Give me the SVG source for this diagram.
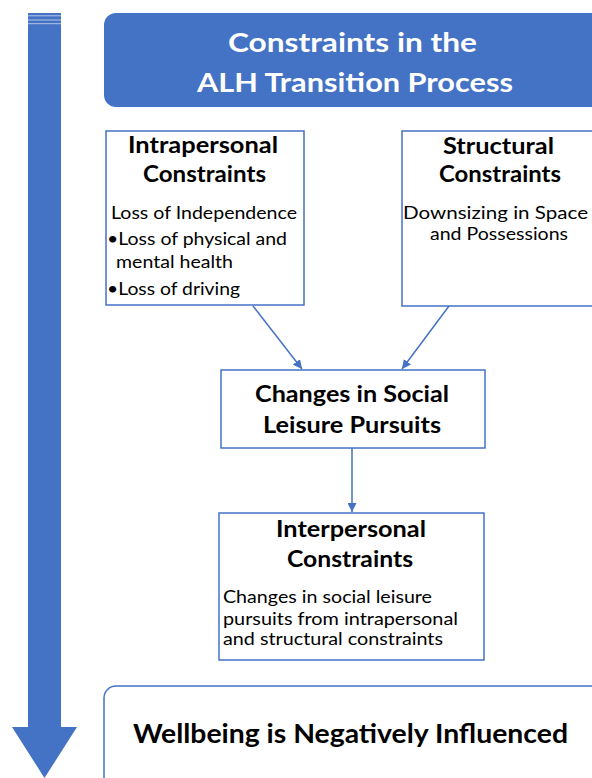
<svg xmlns="http://www.w3.org/2000/svg" width="592" height="778" viewBox="0 0 592 778">
<style>
.box{fill:#ffffff;stroke:#4472C4;stroke-width:1.5}
.h{font-family:Lato,"Open Sans",sans-serif;font-weight:bold;fill:#000;text-anchor:middle}
.b{font-family:Lato,"Open Sans",sans-serif;fill:#000}
.t{font-family:Lato,"Open Sans",sans-serif;font-weight:bold;fill:#fff;text-anchor:middle;font-size:27px}
.c{stroke:#4472C4;stroke-width:1.5;fill:none}
</style>
<defs>
<marker id="ah" viewBox="0 0 10 10" refX="10" refY="5" markerWidth="9" markerHeight="9" markerUnits="userSpaceOnUse" orient="auto">
<path d="M0,0 L10,5 L0,10 z" fill="#4472C4"/>
</marker>
</defs>
<rect width="592" height="778" fill="#ffffff"/>
<g id="timeline-arrow">
<polygon points="28,13 61,13 61,727 77,727 44.5,778 12,727 28,727" fill="#4472C4"/>
<line x1="28" y1="15.8" x2="61" y2="15.8" stroke="#b4c6e7" stroke-width="1"/>
<line x1="28" y1="20" x2="61" y2="20" stroke="#b4c6e7" stroke-width="1"/>
<line x1="28" y1="23.7" x2="61" y2="23.7" stroke="#b4c6e7" stroke-width="1"/>
</g>
<g id="title">
<rect x="104" y="13" width="510" height="94" rx="12" fill="#4472C4"/>
<text class="t" x="352.5" y="52" textLength="249" lengthAdjust="spacingAndGlyphs">Constraints in the</text>
<text class="t" x="355" y="92" textLength="316" lengthAdjust="spacingAndGlyphs">ALH Transition Process</text>
</g>
<g id="intrapersonal">
<rect class="box" x="106" y="131" width="198" height="174"/>
<text class="h" x="203" y="153" font-size="23" textLength="150" lengthAdjust="spacingAndGlyphs">Intrapersonal</text>
<text class="h" x="204.5" y="182" font-size="23" textLength="123" lengthAdjust="spacingAndGlyphs">Constraints</text>
<text class="b" x="204" y="219" font-size="17.5" text-anchor="middle" textLength="186" lengthAdjust="spacingAndGlyphs">Loss of Independence</text>
<text class="b" x="107" y="245" font-size="17.5" textLength="180" lengthAdjust="spacingAndGlyphs">•Loss of physical and</text>
<text class="b" x="116" y="268" font-size="17.5" textLength="117" lengthAdjust="spacingAndGlyphs">mental health</text>
<text class="b" x="107" y="295" font-size="17.5" textLength="133" lengthAdjust="spacingAndGlyphs">•Loss of driving</text>
</g>
<g id="structural">
<rect class="box" x="402" y="131" width="200" height="175"/>
<text class="h" x="498.5" y="154" font-size="23" textLength="111" lengthAdjust="spacingAndGlyphs">Structural</text>
<text class="h" x="500" y="182" font-size="23" textLength="122" lengthAdjust="spacingAndGlyphs">Constraints</text>
<text class="b" x="495.5" y="219" font-size="17.5" text-anchor="middle" textLength="185" lengthAdjust="spacingAndGlyphs">Downsizing in Space</text>
<text class="b" x="499" y="240" font-size="17.5" text-anchor="middle" textLength="138" lengthAdjust="spacingAndGlyphs">and Possessions</text>
</g>
<g id="changes">
<rect class="box" x="221" y="370" width="264" height="78"/>
<text class="h" x="352" y="402" font-size="23" textLength="194" lengthAdjust="spacingAndGlyphs">Changes in Social</text>
<text class="h" x="352" y="433" font-size="23" textLength="178" lengthAdjust="spacingAndGlyphs">Leisure Pursuits</text>
</g>
<g id="interpersonal">
<rect class="box" x="219" y="513" width="265" height="147"/>
<text class="h" x="351" y="537" font-size="23" textLength="150" lengthAdjust="spacingAndGlyphs">Interpersonal</text>
<text class="h" x="350" y="567" font-size="23" textLength="126" lengthAdjust="spacingAndGlyphs">Constraints</text>
<text class="b" x="223" y="603" font-size="16.5" textLength="209" lengthAdjust="spacingAndGlyphs">Changes in social leisure</text>
<text class="b" x="223" y="625" font-size="16.5" textLength="235" lengthAdjust="spacingAndGlyphs">pursuits from intrapersonal</text>
<text class="b" x="223" y="645" font-size="16.5" textLength="220" lengthAdjust="spacingAndGlyphs">and structural constraints</text>
</g>
<g id="wellbeing">
<rect class="box" x="104" y="686" width="510" height="110" rx="12"/>
<text class="h" x="350.5" y="743" font-size="26" textLength="435" lengthAdjust="spacingAndGlyphs">Wellbeing is Negatively Influenced</text>
</g>
<g id="connectors">
<line class="c" x1="253" y1="306" x2="302" y2="369" marker-end="url(#ah)"/>
<line class="c" x1="449" y1="306" x2="402" y2="369" marker-end="url(#ah)"/>
<line class="c" x1="352" y1="448" x2="352" y2="512" marker-end="url(#ah)"/>
</g>
</svg>
